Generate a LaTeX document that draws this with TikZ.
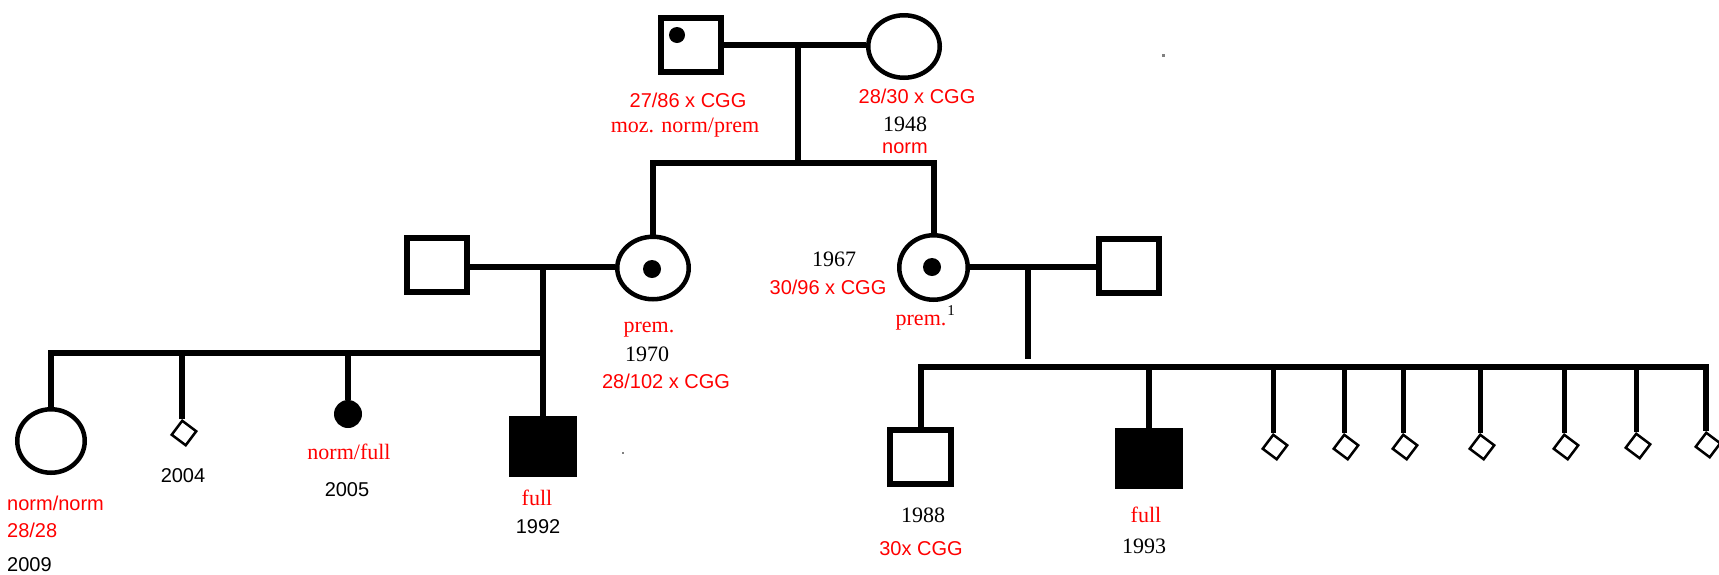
\documentclass[tikz,border=0pt]{standalone}
\usepackage{fontspec}
\setmainfont{Liberation Serif}
\setsansfont{Liberation Sans}
\usetikzlibrary{shapes.geometric}
\begin{document}
\begin{tikzpicture}[x=1pt,y=-1pt,
  lnk/.style={line width=6pt},
  thinlnk/.style={line width=5pt},
  male/.style={draw, rectangle, line width=6pt, minimum width=60pt, minimum height=54pt, inner sep=0pt},
  malefill/.style={fill=black, rectangle, minimum width=68pt, minimum height=61pt, inner sep=0pt},
  fem/.style={draw, ellipse, line width=4.5pt, minimum width=71.5pt, minimum height=62.5pt, inner sep=0pt},
  unk/.style={draw, rectangle, line width=2.5pt, minimum size=17.5pt, inner sep=0pt, rotate=-37, anchor=north west},
  dotc/.style={fill=black, circle, inner sep=0pt, minimum size=#1},
  sr/.style={text=red, font=\sffamily\fontsize{20}{24}\selectfont, inner sep=0pt, anchor=base},
  sb/.style={text=black, font=\sffamily\fontsize{20}{24}\selectfont, inner sep=0pt, anchor=base},
  fr/.style={text=red, font=\rmfamily\fontsize{22}{26}\selectfont, inner sep=0pt, anchor=base},
  fb/.style={text=black, font=\rmfamily\fontsize{22}{26}\selectfont, inner sep=0pt, anchor=base}]
\useasboundingbox (0,0) rectangle (1719,574);

% generation I
\node[male] (GF) at (690.5,44.5) {};
\node[dotc=16pt] (GFdot) at (677,35) {};
\node[fem] (GM) at (904,46.5) {};

% generation II
\node[fem] (D1) at (653,268) {};
\node[dotc=18pt] (D1dot) at (652,269) {};
\node[fem, minimum width=68.5pt, minimum height=64.5pt] (D2) at (933.5,267.5) {};
\node[dotc=18pt] (D2dot) at (932,267) {};
\node[male] (S1) at (437,265) {};
\node[male] (S2) at (1129,266) {};

% generation III left
\node[fem, minimum width=67.5pt, minimum height=63.5pt] (C1) at (51,441) {};
\node[unk] (C2) at (182,419) {};
\node[dotc=28pt] (C3) at (348,414) {};
\node[malefill] (C4) at (543,446.5) {};

% generation III right
\node[male, minimum width=61pt] (G1) at (920.5,457) {};
\node[malefill] (G2) at (1149,458.5) {};
\node[unk] (R1) at (1273,433) {};
\node[unk] (R2) at (1344,433) {};
\node[unk] (R3) at (1403,433) {};
\node[unk] (R4) at (1480,433) {};
\node[unk] (R5) at (1564,433) {};
\node[unk] (R6) at (1636,432) {};
\node[unk] (R7) at (1706,431) {};

% connectors
\coordinate (gp) at (798,45);
\coordinate (sib) at (798,163);
\draw[lnk] (GF.east) -- (GF.east -| GM.west);
\draw[lnk] (gp) -- (sib);
\draw[lnk] (D1.north) |- (sib) -| (D2.north);

\coordinate (lm) at (543,267);
\coordinate (lc) at (543,353);
\draw[lnk] (S1.east |- lm) -- (lm -| D1.west);
\draw[lnk] (lm) -- (C4.north);
\draw[lnk] (C1.north) |- (lc);
\draw[lnk] (C2.north west) -- (C2.north west |- lc);
\draw[lnk] (C3.north) -- (C3.north |- lc);

\coordinate (rm) at (1028,267);
\coordinate (rmb) at (1028,359);
\coordinate (rc) at (1028,367);
\draw[lnk] (D2.east |- rm) -- (rm -| S2.west);
\draw[lnk] (rm) -- (rmb);
\draw[lnk] (G1.north) |- (rc) -| (R7.north west);
\draw[lnk] (G2.north) -- (G2.north |- rc);
\foreach \r in {R1,R2,R3,R4,R5,R6}
  \draw[thinlnk] (\r.north west) -- (\r.north west |- rc);

% labels
\node[sr] (t1) at (688,107) {27/86 x CGG};
\node[fr] (t2) at (685,132) {moz. norm/prem};
\node[sr] (t3) at (917,103) {28/30 x CGG};
\node[fb] (t4) at (905,131) {1948};
\node[sr] (t5) at (905,153) {norm};
\node[fr] (t6) at (649,332) {prem.};
\node[fb] (t7) at (647,361) {1970};
\node[sr] (t8) at (666,388) {28/102 x CGG};
\node[fb] (t9) at (834,266) {1967};
\node[sr] (t10) at (828,294) {30/96 x CGG};
\node[fr] (t11) at (921,325) {prem.};
\node[fb, font=\rmfamily\fontsize{15}{18}\selectfont] (t12) at (951,315) {1};
\node[sr, anchor=base west] (t13) at (7,510) {norm/norm};
\node[sr, anchor=base west] (t14) at (7,537) {28/28};
\node[sb, anchor=base west] (t15) at (7,571) {2009};
\node[sb] (t16) at (183,482) {2004};
\node[fr] (t17) at (349,459) {norm/full};
\node[sb] (t18) at (347,496) {2005};
\node[fr] (t19) at (537,505) {full};
\node[sb] (t20) at (538,533) {1992};
\node[fb] (t21) at (923,522) {1988};
\node[sr] (t22) at (921,555) {30x CGG};
\node[fr] (t23) at (1146,522) {full};
\node[fb] (t24) at (1144,553) {1993};

% stray specks
\fill[gray] (1162,54) rectangle (1165,57);
\fill[gray] (622,452) rectangle (624,454);
\end{tikzpicture}
\end{document}
